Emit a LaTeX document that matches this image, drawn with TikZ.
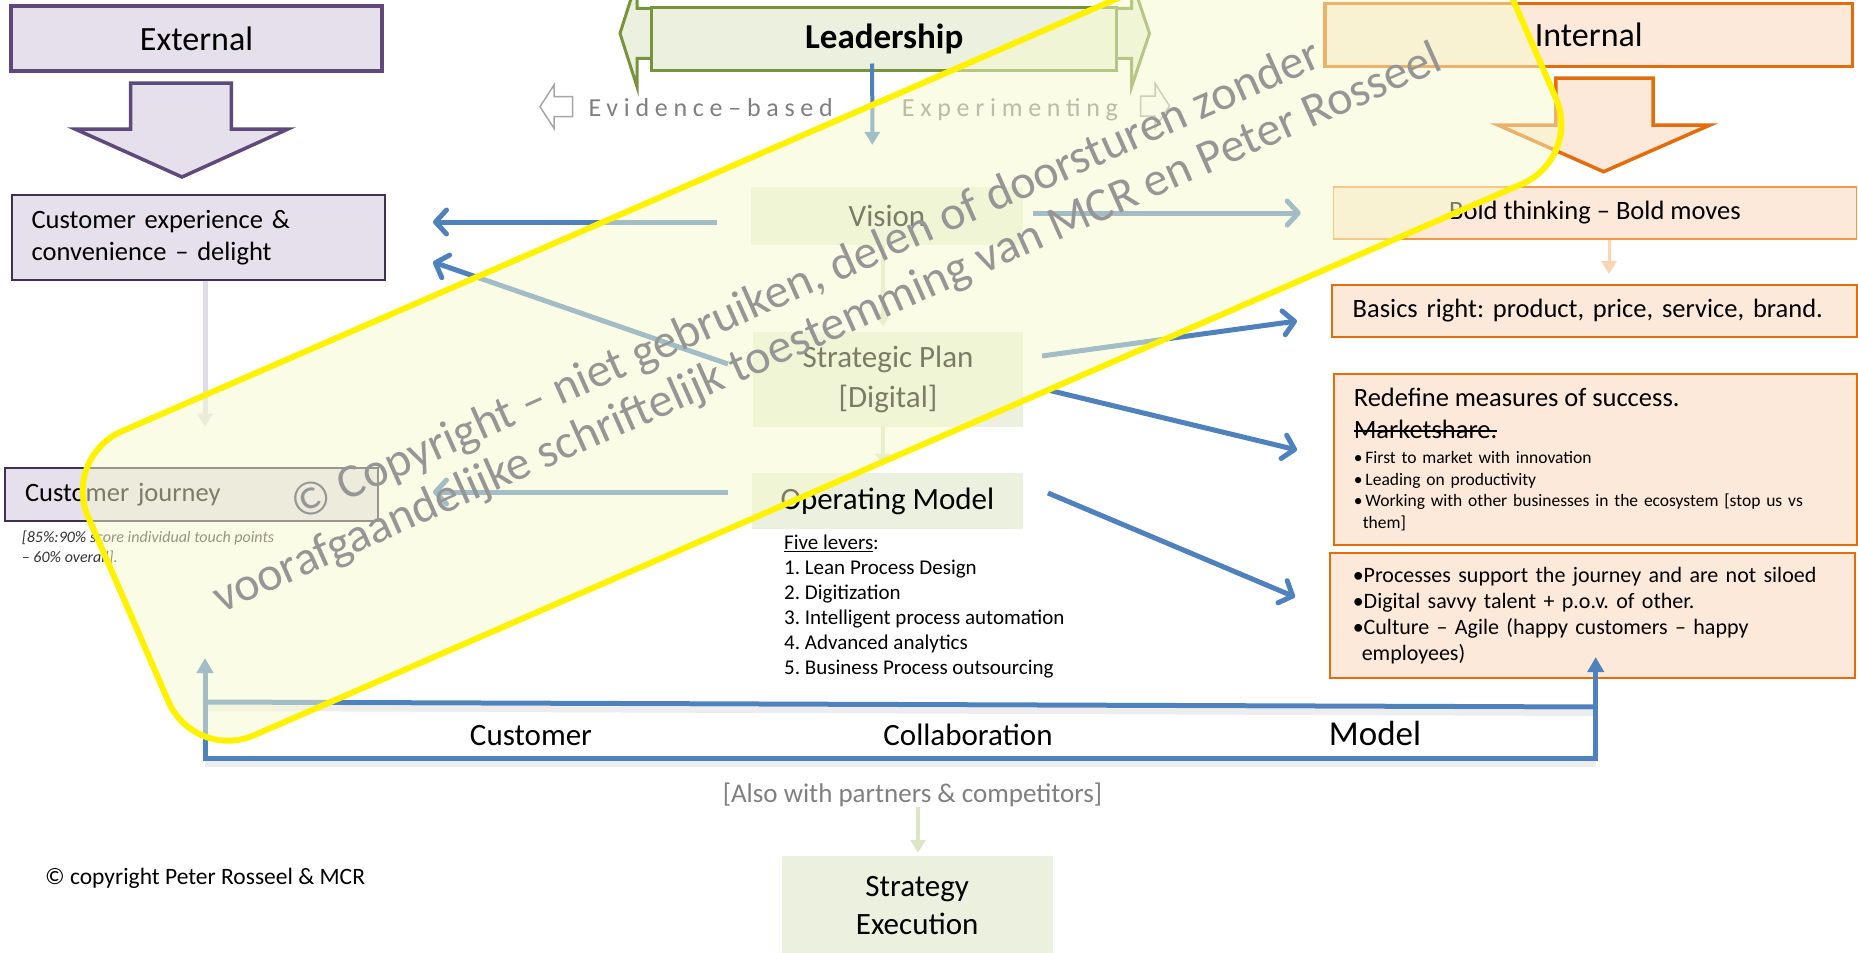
\documentclass[tikz,border=0pt]{standalone}
\usepackage{fontspec}
\setmainfont{Carlito}
\usetikzlibrary{arrows.meta}

\definecolor{extline}{HTML}{5F497A}
\definecolor{extfill}{HTML}{E5E0EC}
\definecolor{cxline}{HTML}{403152}
\definecolor{intline}{HTML}{E46C0A}
\definecolor{boldline}{HTML}{F79646}
\definecolor{intfill}{HTML}{FDE9D9}
\definecolor{leadline}{HTML}{77933C}
\definecolor{leadfill}{HTML}{EBF1DE}
\definecolor{linkblue}{HTML}{4F81BD}
\definecolor{lavlink}{HTML}{E0DDE9}
\definecolor{greenlink}{HTML}{DCE5C8}
\definecolor{pinklink}{HTML}{FBD4B4}
\definecolor{hintgray}{HTML}{7F7F7F}
\definecolor{wmfill}{HTML}{F5F9CD}
\definecolor{wmtext}{HTML}{969696}

\newcommand{\setfs}[2]{\fontsize{#1}{#2}\selectfont}
\newcommand{\strikeword}[1]{\setbox0\hbox{#1}\leavevmode\rlap{\rule[0.25em]{\wd0}{0.06em}}\box0}
\frenchspacing

\begin{document}
\begin{tikzpicture}[x=1pt, y=-1pt,
        extbox/.style={draw=extline, line width=3.5pt, fill=extfill},
        cxbox/.style={draw=cxline, line width=1.5pt, fill=extfill, align=left, font=\setfs{26.5}{32}},
        intbox/.style={draw=intline, line width=2pt, fill=intfill},
        stepbox/.style={fill=leadfill, font=\setfs{31}{40}, align=center},
        hollow/.style={draw=black!35, fill=white, line width=1.5pt},
        spaced/.style={inner sep=0pt, text=hintgray, font=\setfs{26}{30}\addfontfeature{LetterSpace=22}},
        bluelink/.style={draw=linkblue, line width=5pt, -{Straight Barb[round, length=11pt, width=24pt]}},
        palelink/.style={draw=#1, line width=4pt, -{Triangle[length=13pt, width=15pt]}},
        brk/.style={draw=linkblue, line width=5pt},
        wmark/.style={draw=yellow, line width=6pt, fill=wmfill, fill opacity=0.5, rounded corners=65pt}]
        \useasboundingbox (0,0) rectangle (1858,953);
        \clip (0,0) rectangle (1858,953);

        % Lato esterno
        \node[extbox, minimum width=371pt, minimum height=65pt, font=\setfs{34}{40}] (ext) at (196.5,38.5) {External};
        \draw[extbox] (130.5,83) -- (231.3,83) -- (231.3,129) -- (288,129) -- (182,177) -- (75,129) -- (130.5,129) -- cycle;
        \node[cxbox, minimum width=373pt, minimum height=85pt, text width=333.8pt, inner xsep=19.6pt] (custexp) at (198.5,237.5) {Customer experience \&\\convenience – delight};
        \node[cxbox, minimum width=373pt, minimum height=53pt, text width=333pt, inner xsep=20pt] (journey) at (191.5,494.5) {Customer journey};
        \node[anchor=north west, inner sep=0pt, align=left, text=black!80, font=\setfs{16}{20}\itshape] (jnote) at (21.7,531) {[85\%:90\% score individual touch points\\– 60\% overall].};

        % Lato interno
        \node[intbox, line width=3.5pt, minimum width=527.5pt, minimum height=63.4pt, font=\setfs{34}{40}] (int) at (1588.75,35) {Internal};
        \draw[intbox, line width=3.5pt] (1555.8,78) -- (1653,78) -- (1653,125) -- (1710,125) -- (1603.6,171.7) -- (1498,125) -- (1555.8,125) -- cycle;
        \node[intbox, draw=boldline, line width=1.5pt, minimum width=523.3pt, minimum height=52pt, font=\setfs{26.5}{32}] (bold) at (1595,213) {Bold thinking – Bold moves};
        \node[intbox, minimum width=525pt, minimum height=51.7pt, text width=483.6pt, inner xsep=20.7pt, align=left, font=\setfs{26.5}{32}] (basics) at (1594.5,310.8) {Basics right: product, price, service, brand.};
        \node[intbox, minimum width=523.2pt, minimum height=171pt, text width=483.2pt, inner xsep=20pt, align=left, font=\setfs{17.5}{21.7}] (redef) at (1595.4,459.5) {{\setfs{26.5}{32}Redefine measures of success.\\\strikeword{Marketshare.}\\[3pt]}\textbullet\,First to market with innovation\\\textbullet\,Leading on productivity\\\textbullet\,Working with other businesses in the ecosystem [stop us vs\\\hspace*{9pt}them]};
        \node[intbox, minimum width=524.5pt, minimum height=125pt, text width=479pt, inner xsep=22.7pt, align=left, font=\setfs{22}{26}] (proc) at (1592.25,615.5) {\textbullet Processes support the journey and are not siloed\\\textbullet Digital savvy talent + p.o.v. of other.\\\textbullet Culture – Agile (happy customers – happy\\\hspace*{9pt}employees)};

        % Leadership
        \draw[fill=leadfill, draw=leadline, line width=3pt] (620,33.3) -- (637,-20) -- (637,8.3) -- (1131.6,8.3) -- (1131.6,-20) -- (1149.5,33.3) -- (1131.6,86.7) -- (1131.6,58.3) -- (637,58.3) -- (637,86.7) -- cycle;
        \node[draw=leadline, line width=3pt, fill=leadfill, minimum width=465pt, minimum height=62.7pt, font=\setfs{35}{42}\bfseries] (lead) at (884.2,38.65) {Leadership};
        \draw[hollow] (540,106.7) -- (554,85) -- (554,96.7) -- (572.7,96.7) -- (572.7,116.7) -- (554,116.7) -- (554,128.3) -- cycle;
        \draw[hollow] (1169.5,106) -- (1155,83.3) -- (1155,96) -- (1140.5,96) -- (1140.5,116) -- (1155,116) -- (1155,128) -- cycle;
        \node[spaced, anchor=base east] (evid) at (833,116.7) {Evidence–based};
        \node[spaced, anchor=base west] (expt) at (901.7,116.7) {Experimenting};

        % Colonna centrale
        \node[stepbox, minimum width=272pt, minimum height=58pt] (vision) at (887,216) {Vision};
        \node[stepbox, minimum width=270pt, minimum height=95pt] (strat) at (888,379.4) {Strategic Plan\\{[Digital]}};
        \node[stepbox, minimum width=270.7pt, minimum height=56.3pt] (opm) at (887.4,500.9) {Operating Model};
        \node[anchor=north west, inner sep=0pt, align=left, font=\setfs{21}{25}] (levers) at (784,535) {\underline{Five levers}:\\1. Lean Process Design\\2. Digitization\\3. Intelligent process automation\\4. Advanced analytics\\5. Business Process outsourcing};
        \node[stepbox, font=\setfs{31}{38}, minimum width=271pt, minimum height=100pt] (strex) at (917.2,906) {Strategy\\Execution};

        % Testi in basso
        \node[anchor=base, font=\setfs{31}{37}] (cust) at (531,745) {Customer};
        \node[anchor=base, font=\setfs{31}{37}] (collab) at (968,745) {Collaboration};
        \node[anchor=base, font=\setfs{35}{42}] (model) at (1375,745) {Model};
        \node[anchor=base, text=hintgray, font=\setfs{27}{32}] (also) at (912.5,802.7) {[Also with partners \& competitors]};
        \node[anchor=base west, inner sep=0pt, font=\setfs{23.5}{28}] (copy) at (45,884) {© copyright Peter Rosseel \& MCR};

        % Estremi liberi dei collegamenti
        \coordinate (vis-l) at (717,222);
        \coordinate (vis-r) at (1033,213);
        \coordinate (sp-l) at (728,364);
        \coordinate (sp-r1) at (1042,356);
        \coordinate (sp-r2) at (1048,390);
        \coordinate (om-l) at (728,492);
        \coordinate (om-r) at (1048,493);
        \coordinate (cx-in1) at (433,222);
        \coordinate (cx-in2) at (433,262);
        \coordinate (cj-in) at (433,492);
        \coordinate (bold-in) at (1300.7,213);
        \coordinate (basics-in) at (1297,321);
        \coordinate (redef-in) at (1297,450);
        \coordinate (proc-in) at (1295,597);
        \coordinate (cj-top) at (205,426.7);
        \coordinate (also-out) at (918,807);

        % Collegamenti chiari
        \draw[palelink=lavlink, line width=5pt] ([xshift=6.5pt]custexp.south) -- (cj-top);
        \draw[palelink=greenlink] ([xshift=-4pt]vision.south) -- ([xshift=-5pt,yshift=5pt]strat.north);
        \draw[palelink=greenlink] ([xshift=-5pt]strat.south) -- ([xshift=-4.7pt,yshift=6pt]opm.north);
        \draw[palelink=pinklink, line width=3pt] ([xshift=14pt]bold.south) -- ([xshift=14.5pt,yshift=10pt]basics.north);
        \draw[palelink=greenlink] (also-out) -- ([xshift=0.8pt,yshift=3pt]strex.north);

        % Collegamenti blu
        \draw[draw=linkblue, line width=4pt, -{Triangle[length=13pt, width=15pt]}] ([xshift=-12pt,yshift=8pt]lead.south) -- ([xshift=-14.7pt,yshift=42pt]vision.north);
        \draw[bluelink] (vis-l) -- (cx-in1);
        \draw[bluelink] (sp-l) -- (cx-in2);
        \draw[bluelink] (om-l) -- (cj-in);
        \draw[bluelink] (vis-r) -- (bold-in);
        \draw[bluelink] (sp-r1) -- (basics-in);
        \draw[bluelink] (sp-r2) -- (redef-in);
        \draw[bluelink] (om-r) -- (proc-in);

        % Cornice Customer Collaboration Model
        \coordinate (u-left) at (205,658);
        \coordinate (u-bl) at (205,758);
        \coordinate (u-br) at (1595.7,758);
        \coordinate (u-right) at (1595.7,657);
        \coordinate (top-l) at (205,702);
        \coordinate (top-r) at (1595.7,707);
        \draw[black!7, line width=6pt] ([yshift=-6pt]top-l) -- ([yshift=-6pt]top-r);
        \draw[black!7, line width=6pt] ([yshift=-6pt]u-bl) -- ([yshift=-6pt]u-br);
        \draw[brk, {Triangle[length=15pt, width=16pt]}-{Triangle[length=15pt, width=16pt]}] (u-left) -- (u-bl) -- (u-br) -- (u-right);
        \draw[brk] (top-l) -- (top-r);

        % Filigrana
        \begin{scope}[shift={(822,307.6)}, rotate=23.5]
            \draw[wmark] (-756.5,-165.75) rectangle (756.5,165.75);
        \end{scope}
        \node[rotate=24, align=center, text=wmtext, font=\setfs{48}{52}] (wm) at (817,306) {© Copyright – niet gebruiken, delen of doorsturen zonder\\voorafgaandelijke schriftelijk toestemming van MCR en Peter Rosseel};
    \end{tikzpicture}
\end{document}
